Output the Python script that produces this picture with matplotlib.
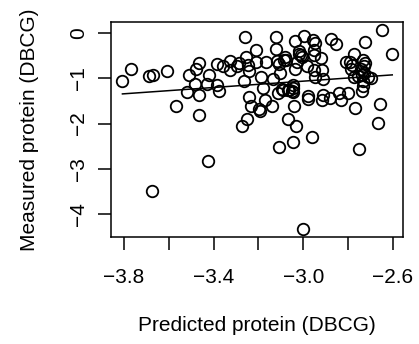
import numpy as np
import matplotlib
matplotlib.use("Agg")
import matplotlib.pyplot as plt

""" Data read off the reference """
pred = [-3.807, -3.769, -3.688, -3.672, -3.606, -3.673, -3.569, -3.520, -3.508, -3.481,
        -3.477, -3.465, -3.465, -3.467, -3.431, -3.419, -3.423, -3.385, -3.385, -3.374,
        -3.358, -3.327, -3.327, -3.294, -3.285, -3.274, -3.260, -3.257, -3.266, -3.249,
        -3.248, -3.240, -3.240, -3.234, -3.212, -3.212, -3.198, -3.193, -3.190, -3.178,
        -3.172, -3.167, -3.139, -3.133, -3.123, -3.120, -3.118, -3.109, -3.111, -3.109,
        -3.103, -3.096, -3.091, -3.088, -3.081, -3.076, -3.070, -3.063, -3.051, -3.048,
        -3.047, -3.044, -3.039, -3.041, -3.067, -3.044, -3.033, -3.035, -3.026, -3.020,
        -3.017, -3.011, -3.006, -2.996, -3.002, -2.984, -2.980, -2.977, -2.960, -2.957,
        -2.954, -2.950, -2.947, -2.951, -2.948, -2.920, -2.916, -2.913, -2.917, -2.913,
        -2.881, -2.877, -2.856, -2.840, -2.832, -2.811, -2.801, -2.792, -2.789, -2.781,
        -2.772, -2.772, -2.771, -2.756, -2.752, -2.744, -2.738, -2.735, -2.734, -2.734,
        -2.728, -2.723, -2.711, -2.700, -2.659, -2.665, -2.649, -2.603, -2.730, -2.725,
        -2.740]
meas = [-1.07, -0.79, -0.96, -0.93, -0.84, -3.48, -1.62, -1.31, -0.93, -1.12,
        -0.80, -0.66, -1.38, -1.81, -1.12, -0.93, -2.82, -0.68, -1.15, -1.29,
        -0.72, -0.61, -0.82, -0.72, -0.66, -2.06, -0.08, -0.52, -1.07, -1.91,
        -0.71, -0.85, -1.41, -1.62, -0.38, -0.65, -1.67, -1.72, -0.97, -1.21,
        -1.48, -0.63, -1.61, -1.02, -0.09, -0.36, -0.62, -0.68, -1.32, -2.51,
        -0.88, -1.23, -1.27, -0.59, -0.54, -0.60, -1.25, -1.26, -1.28, -1.14,
        -1.21, -1.30, -0.18, -1.62, -1.89, -2.40, -2.05, -0.79, -0.64, -0.46,
        -0.40, -0.49, -0.52, -0.07, -4.32, -0.74, -1.39, -1.45, -2.30, -0.15,
        -0.38, -0.48, -0.22, -0.82, -0.97, -0.55, -0.81, -1.01, -1.49, -1.37,
        -1.43, -0.14, -0.25, -1.32, -1.49, -0.65, -1.32, -0.64, -0.80, -0.70,
        -0.46, -0.98, -1.65, -0.96, -2.56, -0.79, -1.28, -0.59, -1.07, -1.17,
        -0.74, -0.19, -0.97, -0.99, -1.56, -1.99, 0.07, -0.46, -0.88, -0.66,
        -0.92]

# fitted line (slope, intercept) as drawn in the reference
fit_coef = [0.349, -0.017]

xticks = [-3.8, -3.6, -3.4, -3.2, -3.0, -2.8, -2.6]
xlabels = ["\u22123.8", "", "\u22123.4", "", "\u22123.0", "", "\u22122.6"]
yticks = [0, -1, -2, -3, -4]
ylabels = ["0", "\u22121", "\u22122", "\u22123", "\u22124"]

plt.rcParams["font.family"] = ["Liberation Sans", "DejaVu Sans"]

fig = plt.figure(figsize=(4.19, 3.44), dpi=100)
ax = fig.add_axes([111 / 419, 1 - 237 / 344, 292 / 419, 215 / 344])

ax.plot(pred, meas, "o", mfc="none", mec="black", ms=8.3, mew=1.3)

xl = np.array([min(pred), max(pred)])
ax.plot(xl, fit_coef[0] * xl + fit_coef[1], color="black", lw=1.1)

ax.set_xlim(-3.858, -2.555)
ax.set_ylim(-4.507, 0.243)

ax.set_xticks(xticks)
ax.set_xticklabels(xlabels, fontsize=15)
ax.set_yticks(yticks)
ax.set_yticklabels(ylabels, fontsize=15, rotation=90, va="center")
ax.tick_params(direction="out", length=9.4, width=1.1)
ax.tick_params(axis="x", pad=13)
ax.tick_params(axis="y", pad=7)

for s in ax.spines.values():
    s.set_linewidth(1.1)

ax.set_xlabel("Predicted protein (DBCG)", fontsize=15, labelpad=21)
ax.set_ylabel("Measured protein (DBCG)", fontsize=15, labelpad=22)

fig.savefig("out.png", dpi=100)
